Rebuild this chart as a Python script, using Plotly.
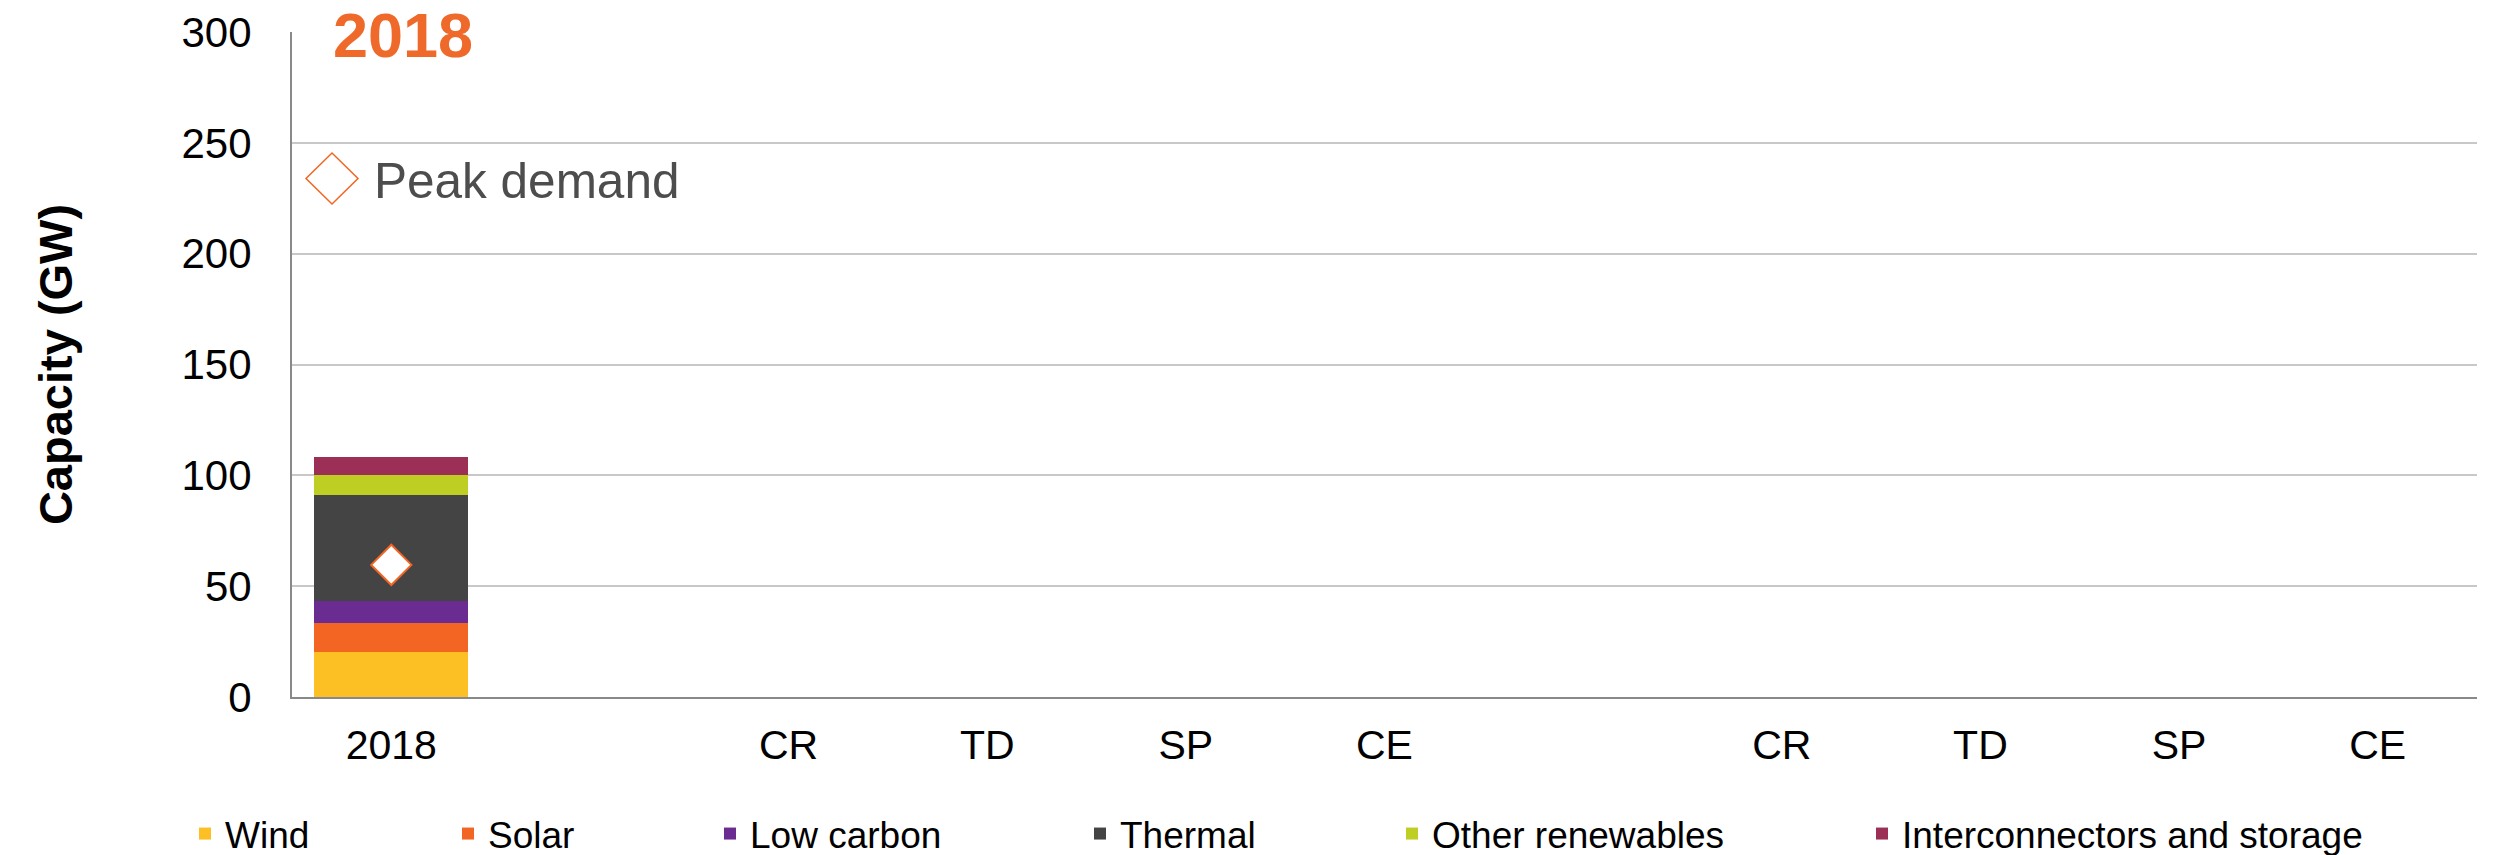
import plotly.graph_objects as go

# ---- data ----
x_labels = ["2018", "", "CR", "TD", "SP", "CE", "", "CR", "TD", "SP", "CE"]
wind = [20.4, None, None, None, None, None, None, None, None, None, None]
solar = [12.8, None, None, None, None, None, None, None, None, None, None]
low_carbon = [10.1, None, None, None, None, None, None, None, None, None, None]
thermal = [47.8, None, None, None, None, None, None, None, None, None, None]
other_renewables = [9.1, None, None, None, None, None, None, None, None, None, None]
interconnectors = [8.2, None, None, None, None, None, None, None, None, None, None]
peak_demand = [59.6, None, None, None, None, None, None, None, None, None, None]

series_names = ["Wind", "Solar", "Low carbon", "Thermal", "Other renewables",
                "Interconnectors and storage"]
series_values = [wind, solar, low_carbon, thermal, other_renewables, interconnectors]
series_colors = ["#FDC024", "#F26522", "#6A2C91", "#444444", "#BFCE22", "#9C2F56"]

# ---- layout constants ----
W, H = 2503, 855
L, R, T, B = 292, 26, 32, 158
PW = W - L - R
PH = H - T - B
FONT = "Liberation Sans, Arial, sans-serif"
ORANGE = "#F26522"

xpos = list(range(len(x_labels)))

fig = go.Figure()

legend_px = [197, 460, 722, 1092, 1404, 1874]  # left edge of legend keys (px)
for i, (name, vals, col) in enumerate(zip(series_names, series_values, series_colors)):
    lg = "legend" if i == 0 else f"legend{i+1}"
    fig.add_trace(go.Bar(
        x=xpos, y=vals, name=name, marker=dict(color=col, line=dict(width=0)),
        width=0.774, legend=lg,
    ))

fig.add_trace(go.Scatter(
    x=xpos, y=peak_demand, mode="markers", name="Peak demand", showlegend=False,
    marker=dict(symbol="diamond", size=31, color="white",
                line=dict(color=ORANGE, width=2)),
))

legends = {}
for i, px in enumerate(legend_px):
    key = "legend" if i == 0 else f"legend{i+1}"
    legends[key] = dict(
        x=(px - 12 - L) / PW, xanchor="left", y=(T + PH - 834) / PH, yanchor="middle",
        orientation="h", font=dict(family=FONT, size=37, color="black"),
        bgcolor="rgba(0,0,0,0)", borderwidth=0,
    )

fig.update_layout(
    width=W, height=H,
    margin=dict(l=L, r=R, t=T, b=B, autoexpand=False),
    paper_bgcolor="white", plot_bgcolor="white",
    barmode="stack",
    font=dict(family=FONT, color="black"),
    showlegend=True,
    **legends,
    xaxis=dict(
        range=[-0.5, len(x_labels) - 0.5], tickmode="array", tickvals=xpos,
        ticktext=x_labels, showgrid=False, zeroline=False, showline=True,
        linecolor="#898989", linewidth=2, ticks="", ticklabelstandoff=11,
        tickfont=dict(family=FONT, size=41, color="black"),
    ),
    yaxis=dict(
        range=[0, 300], dtick=50, showgrid=True, gridcolor="#C8C8C8", gridwidth=2,
        zeroline=False, showline=True, linecolor="#898989", linewidth=2, ticks="",
        ticklabelstandoff=30, tickfont=dict(family=FONT, size=42, color="black"),
        title=dict(text="<b>Capacity (GW)</b>", standoff=94,
                   font=dict(family=FONT, size=47, color="black")),
    ),
)

# title annotation "2018"
fig.add_annotation(
    x=(403 - L) / PW, y=(T + PH - 34.5) / PH, xref="paper", yref="paper",
    text="<b>2018</b>", showarrow=False, xanchor="center", yanchor="middle",
    bgcolor="white", font=dict(family=FONT, size=63, color="#EF6A2A"),
)

# Peak demand key
kx, ky = (332 - L) / PW, (T + PH - 178.5) / PH
fig.add_shape(
    type="path", xref="paper", yref="paper", xsizemode="pixel", ysizemode="pixel",
    xanchor=kx, yanchor=ky, path="M -26 0 L 0 25.5 L 26 0 L 0 -25.5 Z",
    line=dict(color=ORANGE, width=1.5), fillcolor="white",
)
fig.add_annotation(
    x=(372 - L) / PW, y=(T + PH - 180) / PH, xref="paper", yref="paper",
    text="Peak demand", showarrow=False, xanchor="left", yanchor="middle",
    font=dict(family=FONT, size=49.5, color="#4D4D4D"),
)

fig.write_html("out.html", config={"displayModeBar": False},
               post_script="document.body.style.margin='0';")
